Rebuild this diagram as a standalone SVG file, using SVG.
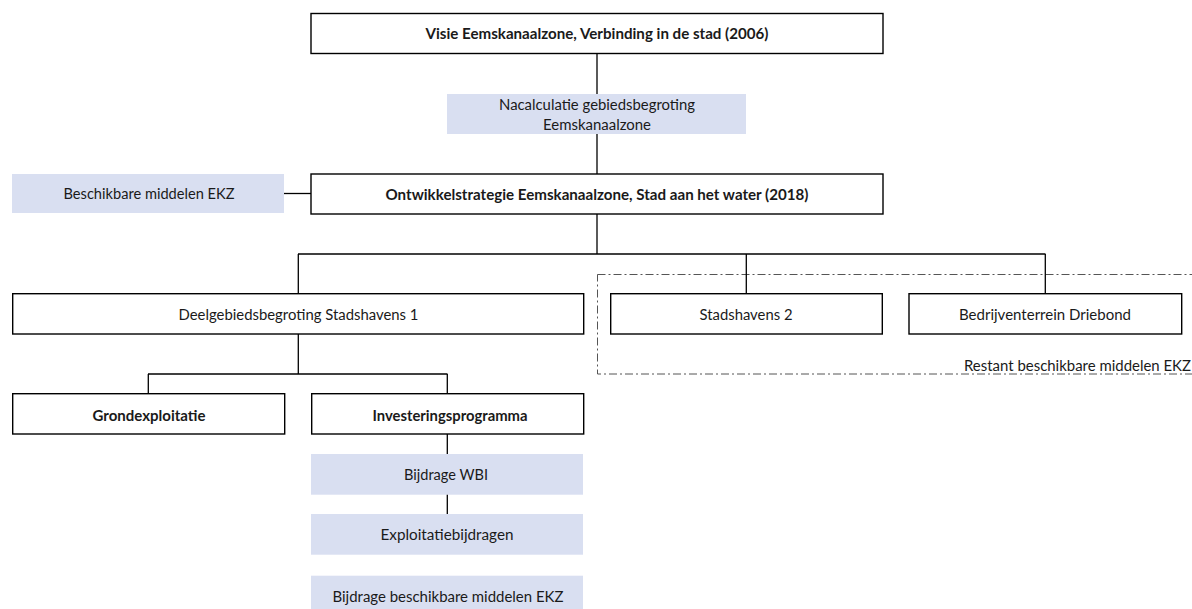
<svg xmlns="http://www.w3.org/2000/svg" width="1192" height="609" viewBox="0 0 1192 609">
  <style>
    .box { fill: #ffffff; stroke: #000000; stroke-width: 1.4; }
    .note { fill: #D9DFF1; stroke: none; }
    .t { font-family: Lato, "Liberation Sans", sans-serif; font-size: 14.5px; fill: #1a1a1a; text-anchor: middle; }
    .b { font-weight: 700; }
    .conn line { stroke: #000000; stroke-width: 1.3; }
    .zone { fill: none; stroke: #555555; stroke-width: 1; stroke-dasharray: 8 3 2 3; }
  </style>

  <g id="node-visie">
    <rect class="box" x="311" y="13.5" width="572" height="40"/>
    <text class="t b" x="597" y="38.5" textLength="343" lengthAdjust="spacingAndGlyphs">Visie Eemskanaalzone, Verbinding in de stad (2006)</text>
  </g>

  <g id="node-nacalculatie">
    <rect class="note" x="447" y="94" width="299" height="40"/>
    <text class="t" x="597" y="110" textLength="196" lengthAdjust="spacingAndGlyphs">Nacalculatie gebiedsbegroting</text>
    <text class="t" x="597" y="129.5" textLength="108" lengthAdjust="spacingAndGlyphs">Eemskanaalzone</text>
  </g>

  <g id="node-beschikbaar">
    <rect class="note" x="12" y="174" width="272" height="39"/>
    <text class="t" x="149" y="199" textLength="171" lengthAdjust="spacingAndGlyphs">Beschikbare middelen EKZ</text>
  </g>

  <g id="node-ontwikkel">
    <rect class="box" x="311" y="174" width="572" height="40"/>
    <text class="t b" x="597" y="199.5" textLength="423" lengthAdjust="spacingAndGlyphs">Ontwikkelstrategie Eemskanaalzone, Stad aan het water (2018)</text>
  </g>

  <g id="zone-restant">
    <rect class="zone" x="597.5" y="274.5" width="600" height="99.5"/>
    <text class="t" x="1191" y="370.5" style="text-anchor:end" textLength="227" lengthAdjust="spacingAndGlyphs">Restant beschikbare middelen EKZ</text>
  </g>

  <g id="node-stadshavens1">
    <rect class="box" x="12.7" y="293.7" width="571" height="40.3"/>
    <text class="t" x="298.5" y="320" textLength="240" lengthAdjust="spacingAndGlyphs">Deelgebiedsbegroting Stadshavens 1</text>
  </g>

  <g id="node-stadshavens2">
    <rect class="box" x="610.7" y="293.7" width="271.6" height="40.3"/>
    <text class="t" x="746" y="320" textLength="93" lengthAdjust="spacingAndGlyphs">Stadshavens 2</text>
  </g>

  <g id="node-driebond">
    <rect class="box" x="909" y="293.7" width="272.7" height="40.3"/>
    <text class="t" x="1045" y="320" textLength="172" lengthAdjust="spacingAndGlyphs">Bedrijventerrein Driebond</text>
  </g>

  <g id="node-grondexploitatie">
    <rect class="box" x="12.7" y="393.7" width="272" height="40.3"/>
    <text class="t b" x="149" y="420.5" textLength="113" lengthAdjust="spacingAndGlyphs">Grondexploitatie</text>
  </g>

  <g id="node-investering">
    <rect class="box" x="311.7" y="393.7" width="272" height="40.3"/>
    <text class="t b" x="450" y="420.5" textLength="155" lengthAdjust="spacingAndGlyphs">Investeringsprogramma</text>
  </g>

  <g id="node-wbi">
    <rect class="note" x="311" y="454" width="272" height="40.7"/>
    <text class="t" x="446" y="480" textLength="84" lengthAdjust="spacingAndGlyphs">Bijdrage WBI</text>
  </g>

  <g id="node-exploitatiebijdragen">
    <rect class="note" x="311" y="514" width="272" height="40.7"/>
    <text class="t" x="447" y="540" textLength="133" lengthAdjust="spacingAndGlyphs">Exploitatiebijdragen</text>
  </g>

  <g id="node-bijdrage-ekz">
    <rect class="note" x="311" y="575.7" width="272" height="42"/>
    <text class="t" x="448" y="602" textLength="231" lengthAdjust="spacingAndGlyphs">Bijdrage beschikbare middelen EKZ</text>
  </g>

  <g id="connectors" class="conn">
    <line x1="597" y1="53.5" x2="597" y2="94"/>
    <line x1="597" y1="134" x2="597" y2="174"/>
    <line x1="284" y1="193.5" x2="311" y2="193.5"/>
    <line x1="597" y1="214" x2="597" y2="254"/>
    <line x1="298" y1="254" x2="1045.5" y2="254"/>
    <line x1="298.3" y1="254" x2="298.3" y2="293.7"/>
    <line x1="746.3" y1="254" x2="746.3" y2="293.7"/>
    <line x1="1045.3" y1="254" x2="1045.3" y2="293.7"/>
    <line x1="298.3" y1="334" x2="298.3" y2="374"/>
    <line x1="148" y1="374" x2="447.5" y2="374"/>
    <line x1="148.3" y1="374" x2="148.3" y2="393.7"/>
    <line x1="447.3" y1="374" x2="447.3" y2="393.7"/>
    <line x1="447.3" y1="434" x2="447.3" y2="454"/>
    <line x1="447.3" y1="494.7" x2="447.3" y2="514"/>
  </g>
</svg>
